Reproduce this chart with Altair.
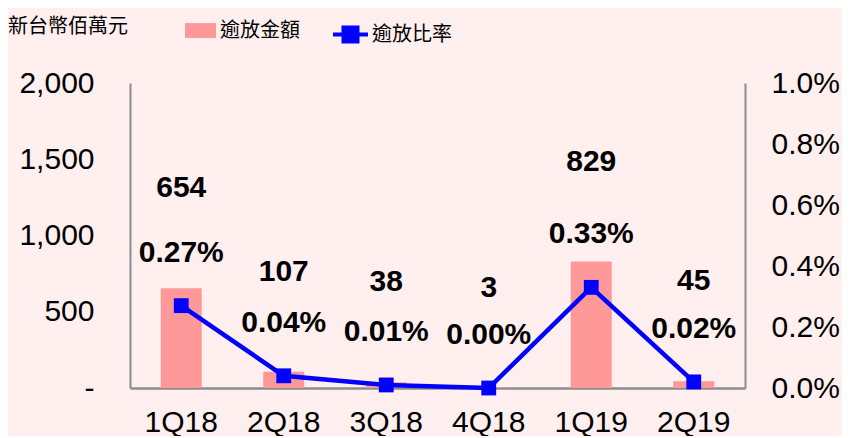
import altair as alt
import pandas as pd

quarters = ['1Q18', '2Q18', '3Q18', '4Q18', '1Q19', '2Q19']
amounts = [654, 107, 38, 3, 829, 45]
rates = [0.0027, 0.0004, 0.0001, 0.0000, 0.0033, 0.0002]
bar_name = '逾放金額'
line_name = '逾放比率'
unit_title = '新台幣佰萬元'

df = pd.DataFrame({
    'q': quarters,
    'amt': amounts,
    'rate': rates,
    's1': [bar_name] * len(quarters),
    's2': [line_name] * len(quarters),
})

LAT = 'Liberation Sans, Arial, sans-serif'
CJK = 'Noto Sans CJK TC'

x = alt.X('q:N', sort=quarters, title=None,
          scale=alt.Scale(paddingInner=0.6, paddingOuter=0.3),
          axis=alt.Axis(labelAngle=0, ticks=False, labelPadding=19,
                        labelFontSize=30, labelFont=LAT, labelColor='black',
                        domainColor='#8c8c8c', domainWidth=2.5))

y_left = alt.Y('amt:Q', title=None,
               scale=alt.Scale(domain=[0, 2000], nice=False),
               axis=alt.Axis(values=[0, 500, 1000, 1500, 2000], grid=False, ticks=False,
                             labelExpr="datum.value == 0 ? '-\u00a0\u00a0' : format(datum.value, ',')",
                             labelPadding=36, labelFontSize=30, labelFont=LAT,
                             labelColor='black', domainColor='#8c8c8c', domainWidth=2))

bars = alt.Chart(df).mark_bar(color='#FF9999').encode(
    x=x,
    y=y_left,
    color=alt.Color('s1:N', scale=alt.Scale(domain=[bar_name], range=['#FF9999']),
                    legend=alt.Legend(title=None, orient='none', legendX=55, legendY=-68,
                                      symbolType='M-1,-0.48H1V0.48H-1Z', symbolSize=961,
                                      symbolStrokeWidth=0, labelFont=CJK, labelFontSize=20,
                                      labelColor='black', labelOffset=4, labelLimit=300,
                                      padding=0)),
)

bar_text = alt.Chart(df).mark_text(dy=-100, fontSize=30, fontWeight='bold', font=LAT,
                                   color='black').encode(
    x=alt.X('q:N', sort=quarters),
    y=alt.Y('amt:Q', scale=alt.Scale(domain=[0, 2000], nice=False)),
    text=alt.Text('amt:Q', format=','),
)

left = alt.layer(bars, bar_text)

y_right = alt.Y('rate:Q', title=None,
                scale=alt.Scale(domain=[0, 0.01], nice=False),
                axis=alt.Axis(values=[0, 0.002, 0.004, 0.006, 0.008, 0.01], format='.1%',
                              grid=False, ticks=False, orient='right', labelPadding=26,
                              labelFontSize=30, labelFont=LAT, labelColor='black',
                              domainColor='#8c8c8c', domainWidth=2))

line = alt.Chart(df).mark_line(strokeWidth=4.5).encode(
    x=alt.X('q:N', sort=quarters),
    y=y_right,
    stroke=alt.Stroke('s2:N', scale=alt.Scale(domain=[line_name], range=['#0000FF']),
                      legend=alt.Legend(title=None, orient='none', legendX=201, legendY=-68,
                                        symbolType='M-1,0H1M-0.4,-0.4H0.4V0.4H-0.4Z',
                                        symbolSize=1225, symbolStrokeWidth=4,
                                        symbolFillColor='#0000FF', labelFont=CJK,
                                        labelFontSize=20, labelColor='black', labelOffset=2,
                                        labelLimit=300, padding=0)),
)

points = alt.Chart(df).mark_point(shape='square', filled=True, size=220, color='#0000FF',
                                  opacity=1).encode(
    x=alt.X('q:N', sort=quarters),
    y=alt.Y('rate:Q', scale=alt.Scale(domain=[0, 0.01], nice=False)),
)

rate_text = alt.Chart(df).mark_text(dy=-53, fontSize=30, fontWeight='bold', font=LAT,
                                    color='black').encode(
    x=alt.X('q:N', sort=quarters),
    y=alt.Y('rate:Q', scale=alt.Scale(domain=[0, 0.01], nice=False)),
    text=alt.Text('rate:Q', format='.2%'),
)

right = alt.layer(line, points, rate_text)

chart = alt.layer(left, right).resolve_scale(
    y='independent'
).properties(
    width=615, height=305,
    autosize=alt.AutoSizeParams(type='none'),
    padding={'left': 122, 'top': 75, 'right': 97, 'bottom': 48},
    background='#FFEFEF',
    title=alt.TitleParams(unit_title, anchor='start', frame='group', dx=-122, offset=-22,
                          fontSize=20, font=CJK, fontWeight='normal', color='black'),
).configure_view(stroke=None)

chart.save("out.html", embed_options={"renderer": "svg", "actions": False})
